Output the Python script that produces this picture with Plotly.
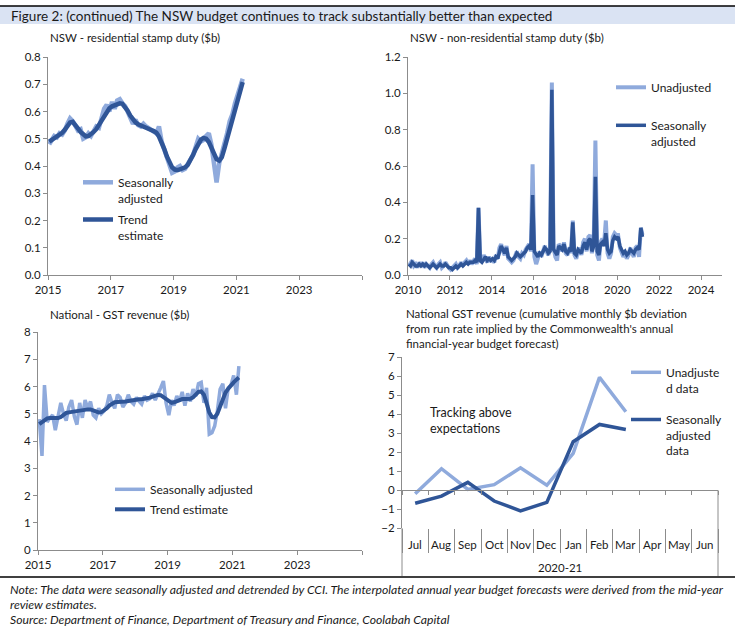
import pandas as pd
import plotly.graph_objects as go

W, H = 745, 639
LIGHT = "#8FAADC"
DARK = "#2F5597"
AXIS = "#8C8C8C"
TXT = "#1A1A1A"
FONT = "Lato"

# ---------------- data ----------------
# NSW residential stamp duty ($b), monthly Jan-2015 .. Mar-2021
res_start = "2015-01-01"
res_sa = [
    0.48, 0.50, 0.51, 0.505, 0.52, 0.515, 0.53, 0.555, 0.575, 0.565, 0.545, 0.53,
    0.535, 0.50, 0.505, 0.52, 0.51, 0.53, 0.545, 0.54, 0.575, 0.61, 0.625, 0.60,
    0.635, 0.61, 0.64, 0.645, 0.63, 0.62, 0.60, 0.575, 0.555, 0.57, 0.55, 0.545,
    0.555, 0.545, 0.54, 0.535, 0.53, 0.52, 0.545, 0.49, 0.46, 0.43, 0.40, 0.375,
    0.38, 0.395, 0.40, 0.385, 0.39, 0.41, 0.42, 0.44, 0.47, 0.50, 0.49, 0.495,
    0.51, 0.52, 0.48, 0.40, 0.34, 0.41, 0.445, 0.47, 0.52, 0.565, 0.59, 0.63,
    0.665, 0.70, 0.72,
]
res_trend = [
    0.489, 0.495, 0.502, 0.510, 0.515, 0.522, 0.533, 0.548, 0.560, 0.562, 0.552, 0.538,
    0.525, 0.514, 0.509, 0.510, 0.516, 0.525, 0.535, 0.550, 0.568, 0.585, 0.600, 0.612,
    0.619, 0.624, 0.628, 0.630, 0.628, 0.618, 0.603, 0.585, 0.569, 0.560, 0.553, 0.548,
    0.545, 0.541, 0.536, 0.532, 0.528, 0.522, 0.508, 0.488, 0.462, 0.435, 0.410, 0.395,
    0.387, 0.385, 0.388, 0.392, 0.395, 0.404, 0.420, 0.440, 0.462, 0.482, 0.497, 0.503,
    0.500, 0.488, 0.470, 0.445, 0.425, 0.420, 0.432, 0.465, 0.500, 0.545, 0.580, 0.615,
    0.650, 0.680, 0.708,
]

# NSW non-residential stamp duty ($b), monthly Jan-2010 .. Mar-2021
nonres_start = "2010-01-01"
nonres_unadj = [
    0.05, 0.07, 0.08, 0.05, 0.06, 0.04, 0.07, 0.05, 0.07, 0.04, 0.06, 0.05,
    0.04, 0.06, 0.07, 0.05, 0.04, 0.06, 0.07, 0.04, 0.05, 0.07, 0.05, 0.04,
    0.03, 0.04, 0.05, 0.06, 0.04, 0.05, 0.07, 0.05, 0.07, 0.08, 0.06, 0.08,
    0.06, 0.08, 0.09, 0.06, 0.37, 0.07, 0.08, 0.11, 0.09, 0.07, 0.10, 0.08,
    0.08, 0.07, 0.11, 0.09, 0.15, 0.17, 0.13, 0.11, 0.16, 0.09, 0.08, 0.07,
    0.08, 0.11, 0.13, 0.10, 0.09, 0.12, 0.11, 0.14, 0.16, 0.17, 0.13, 0.61,
    0.10, 0.06, 0.09, 0.13, 0.10, 0.14, 0.16, 0.13, 0.11, 0.14, 1.06, 0.15,
    0.10, 0.08, 0.17, 0.16, 0.13, 0.18, 0.12, 0.11, 0.15, 0.12, 0.30, 0.11,
    0.09, 0.13, 0.15, 0.11, 0.18, 0.20, 0.13, 0.21, 0.22, 0.12, 0.17, 0.74,
    0.11, 0.08, 0.18, 0.20, 0.17, 0.30, 0.12, 0.09, 0.12, 0.21, 0.23, 0.22,
    0.22, 0.15, 0.13, 0.10, 0.12, 0.09, 0.11, 0.15, 0.12, 0.10, 0.15, 0.16,
    0.10, 0.26, 0.22,
]
nonres_sa = [
    0.06, 0.05, 0.07, 0.06, 0.05, 0.05, 0.06, 0.05, 0.06, 0.05, 0.06, 0.05,
    0.04, 0.05, 0.06, 0.05, 0.04, 0.05, 0.06, 0.05, 0.05, 0.06, 0.05, 0.04,
    0.04, 0.03, 0.04, 0.05, 0.04, 0.05, 0.06, 0.05, 0.06, 0.07, 0.06, 0.07,
    0.07, 0.07, 0.08, 0.07, 0.37, 0.08, 0.07, 0.09, 0.10, 0.08, 0.09, 0.08,
    0.09, 0.08, 0.10, 0.09, 0.13, 0.16, 0.14, 0.12, 0.15, 0.10, 0.09, 0.08,
    0.09, 0.10, 0.12, 0.11, 0.10, 0.11, 0.12, 0.13, 0.15, 0.16, 0.14, 0.44,
    0.13, 0.11, 0.10, 0.12, 0.11, 0.13, 0.15, 0.14, 0.12, 0.13, 1.02, 0.14,
    0.12, 0.11, 0.16, 0.15, 0.14, 0.17, 0.13, 0.12, 0.14, 0.13, 0.29, 0.12,
    0.11, 0.14, 0.13, 0.12, 0.16, 0.18, 0.14, 0.19, 0.20, 0.13, 0.16, 0.54,
    0.13, 0.11, 0.17, 0.18, 0.16, 0.23, 0.14, 0.12, 0.13, 0.19, 0.21, 0.20,
    0.21, 0.16, 0.14, 0.12, 0.13, 0.11, 0.12, 0.14, 0.13, 0.12, 0.14, 0.15,
    0.14, 0.26, 0.21,
]

# National GST revenue ($b), monthly Jan-2015 .. Mar-2021
gst_start = "2015-01-01"
gst_sa = [
    4.80, 3.45, 6.05, 4.70, 4.85, 4.95, 4.40, 4.90, 5.40, 5.00, 4.75, 5.25,
    5.50, 4.90, 4.60, 5.40, 4.85, 5.50, 5.20, 5.45, 4.95, 4.85, 5.20, 5.00,
    5.10, 5.30, 5.70, 5.40, 5.20, 5.70, 5.60, 5.25, 5.40, 5.70, 5.45, 5.35,
    5.60, 5.45, 5.35, 5.65, 5.50, 5.55, 5.75, 5.50, 5.70, 5.95, 6.20, 5.40,
    4.95, 5.50, 5.30, 5.65, 5.45, 5.80, 5.30, 5.75, 5.45, 5.90, 5.65, 6.10,
    6.15, 5.40, 5.95, 4.25, 4.30, 4.55, 5.10, 5.90, 6.10, 5.20, 5.95, 6.05,
    6.40, 5.70, 6.75,
]
gst_trend = [
    4.62, 4.70, 4.78, 4.83, 4.84, 4.84, 4.83, 4.84, 4.88, 4.96, 5.03, 5.05,
    5.07, 5.09, 5.10, 5.11, 5.13, 5.15, 5.16, 5.16, 5.13, 5.08, 5.05, 5.06,
    5.12, 5.20, 5.30, 5.38, 5.42, 5.43, 5.43, 5.44, 5.45, 5.47, 5.49, 5.51,
    5.52, 5.53, 5.53, 5.54, 5.56, 5.59, 5.63, 5.67, 5.69, 5.68, 5.61, 5.52,
    5.44, 5.40, 5.42, 5.47, 5.52, 5.54, 5.54, 5.53, 5.55, 5.60, 5.70, 5.80,
    5.82, 5.70, 5.40, 5.05, 4.88, 4.87, 5.00, 5.25, 5.55, 5.78, 5.92, 6.05,
    6.15, 6.25, 6.33,
]

# Cumulative GST deviation 2020-21 ($b)
fy_months = ["Jul", "Aug", "Sep", "Oct", "Nov", "Dec", "Jan", "Feb", "Mar", "Apr", "May", "Jun"]
fy_unadj = [-0.2, 1.12, 0.03, 0.28, 1.17, 0.25, 1.93, 5.93, 4.12]
fy_sa = [-0.7, -0.32, 0.4, -0.58, -1.1, -0.65, 2.54, 3.45, 3.18]
fy_label = "2020-21"

res_years = [2015, 2017, 2019, 2021, 2023, 2025]
res_labels = ["2015", "2017", "2019", "2021", "2023", ""]
nonres_years = [2010, 2012, 2014, 2016, 2018, 2020, 2022, 2024]
nonres_labels = ["2010", "2012", "2014", "2016", "2018", "2020", "2022", "2024"]


def monthly(start, n):
    return pd.date_range(start, periods=n, freq="MS") + pd.Timedelta(days=14)


def px_x(p):
    return p / W


def px_y(p):
    return 1 - p / H


fig = go.Figure()

# Top-left
d = monthly(res_start, len(res_sa))
fig.add_trace(go.Scatter(x=d, y=res_sa, mode="lines", name="Seasonally<br>adjusted",
                         line=dict(color=LIGHT, width=4.5), xaxis="x", yaxis="y",
                         legend="legend", legendgroup="a1"))
fig.add_trace(go.Scatter(x=d, y=res_trend, mode="lines", name="Trend<br>estimate",
                         line=dict(color=DARK, width=4.5), xaxis="x", yaxis="y",
                         legend="legend", legendgroup="a2"))
# Top-right
d = monthly(nonres_start, len(nonres_sa))
fig.add_trace(go.Scatter(x=d, y=nonres_unadj, mode="lines", name="Unadjusted",
                         line=dict(color=LIGHT, width=4), xaxis="x2", yaxis="y2",
                         legend="legend2", legendgroup="b1"))
fig.add_trace(go.Scatter(x=d, y=nonres_sa, mode="lines", name="Seasonally<br>adjusted",
                         line=dict(color=DARK, width=3.5), xaxis="x2", yaxis="y2",
                         legend="legend2", legendgroup="b2"))
# Bottom-left
d = monthly(gst_start, len(gst_sa))
fig.add_trace(go.Scatter(x=d, y=gst_sa, mode="lines", name="Seasonally adjusted",
                         line=dict(color=LIGHT, width=3.5), xaxis="x3", yaxis="y3",
                         legend="legend3", legendgroup="c1"))
fig.add_trace(go.Scatter(x=d, y=gst_trend, mode="lines", name="Trend estimate",
                         line=dict(color=DARK, width=4), xaxis="x3", yaxis="y3",
                         legend="legend3", legendgroup="c2"))
# Bottom-right
fig.add_trace(go.Scatter(x=fy_months[:len(fy_unadj)], y=fy_unadj, mode="lines",
                         name="Unadjuste<br>d data", line=dict(color=LIGHT, width=3.5),
                         xaxis="x4", yaxis="y4", legend="legend4", legendgroup="d1"))
fig.add_trace(go.Scatter(x=fy_months[:len(fy_sa)], y=fy_sa, mode="lines",
                         name="Seasonally<br>adjusted<br>data", line=dict(color=DARK, width=3.5),
                         xaxis="x4", yaxis="y4", legend="legend4", legendgroup="d2"))
# helper trace for the zero-line category axis
fig.add_trace(go.Scatter(x=[None], y=[None], xaxis="x5", yaxis="y4", showlegend=False,
                         hoverinfo="skip"))

tickfont = dict(family=FONT, size=11.5, color=TXT)
base_axis = dict(showline=True, linecolor=AXIS, linewidth=1, ticks="outside", ticklen=4,
                 tickcolor=AXIS, tickwidth=1, showgrid=False, zeroline=False,
                 tickfont=tickfont, fixedrange=True, automargin=False)


def date_axis(domain, anchor, years, labels):
    vals = [f"{y}-01-01" for y in years]
    return dict(base_axis, domain=domain, anchor=anchor, type="date",
                tickmode="array", tickvals=vals, ticktext=labels)


y_top = [px_y(275), px_y(57)]
y4dom = [px_y(528), px_y(357)]
y4range = [-2, 7]
zero_pos = y4dom[0] + (0 - y4range[0]) / (y4range[1] - y4range[0]) * (y4dom[1] - y4dom[0])

xa1 = date_axis([px_x(48), px_x(362)], "y", res_years, res_labels)
xa1["range"] = ["2015-01-01", "2025-01-01"]
xa2 = date_axis([px_x(408), px_x(722)], "y2", nonres_years, nonres_labels)
xa2["range"] = ["2010-01-01", "2025-01-01"]
xa3 = date_axis([px_x(38), px_x(362)], "y3", res_years, res_labels)
xa3["range"] = ["2015-01-01", "2025-01-01"]

fig.update_layout(
    width=W, height=H, margin=dict(l=0, r=0, t=0, b=0, pad=0), autosize=False,
    paper_bgcolor="white", plot_bgcolor="rgba(0,0,0,0)",
    font=dict(family=FONT, size=12, color=TXT),
    hovermode=False,
    xaxis=xa1,
    yaxis=dict(base_axis, domain=y_top, anchor="x", range=[0, 0.8], dtick=0.1, tickformat=".1f"),
    xaxis2=xa2,
    yaxis2=dict(base_axis, domain=y_top, anchor="x2", range=[0, 1.2], dtick=0.2, tickformat=".1f"),
    xaxis3=xa3,
    yaxis3=dict(base_axis, domain=[px_y(550), px_y(332)], anchor="x3", range=[0, 8], dtick=1),
    xaxis4=dict(base_axis, domain=[px_x(402), px_x(718)], anchor="y4", type="category",
                categoryorder="array", categoryarray=fy_months, range=[-0.5, len(fy_months) - 0.5],
                showline=False, tickson="boundaries", ticklen=24, showticklabels=False),
    yaxis4=dict(base_axis, domain=y4dom, anchor="x4", range=y4range, dtick=1),
    xaxis5=dict(base_axis, overlaying="x4", anchor="free", position=zero_pos, type="linear",
                range=[-0.5, len(fy_months) - 0.5], tickmode="array",
                tickvals=[i - 0.5 for i in range(len(fy_months) + 1)], showticklabels=False),
)

legfont = dict(family=FONT, size=12, color=TXT)
leg = dict(bgcolor="rgba(0,0,0,0)", borderwidth=0, font=legfont, valign="top",
           xanchor="left", yanchor="top", itemclick=False, itemdoubleclick=False)
fig.update_layout(
    legend=dict(leg, x=px_x(78), y=px_y(168), tracegroupgap=3),
    legend2=dict(leg, x=px_x(611), y=px_y(73), tracegroupgap=19),
    legend3=dict(leg, x=px_x(110), y=px_y(475), tracegroupgap=1),
    legend4=dict(leg, x=px_x(626), y=px_y(358), tracegroupgap=13),
)

shapes = [
    dict(type="rect", xref="paper", yref="paper", x0=0, x1=px_x(735), y0=px_y(24), y1=px_y(6),
         fillcolor="#DAE3F3", line=dict(width=0), layer="below"),
    dict(type="line", xref="paper", yref="paper", x0=0, x1=px_x(735), y0=px_y(6), y1=px_y(6),
         line=dict(color="black", width=1.5)),
    dict(type="line", xref="paper", yref="paper", x0=0, x1=px_x(735), y0=px_y(577), y1=px_y(577),
         line=dict(color="black", width=1.5)),
    dict(type="line", xref="x4 domain", yref="paper", x0=0, x1=0, y0=y4dom[0], y1=px_y(576),
         line=dict(color=AXIS, width=1)),
    dict(type="line", xref="x4 domain", yref="paper", x0=1, x1=1, y0=zero_pos, y1=px_y(576),
         line=dict(color=AXIS, width=1)),
]

ann = []


def text(x, y, s, size=12, italic=False, xref="paper", xanchor="left"):
    ann.append(dict(x=x, y=y, xref=xref, yref="paper", text=s, showarrow=False,
                    xanchor=xanchor, yanchor="middle", align="left",
                    font=dict(family=FONT, size=size, color=TXT,
                              style="italic" if italic else "normal")))


text(px_x(9), px_y(16), "Figure 2: (continued) The NSW budget continues to track substantially better than expected", size=13.5)
text(px_x(48), px_y(38), "NSW - residential stamp duty ($b)", size=11.5)
text(px_x(408), px_y(38), "NSW - non-residential stamp duty ($b)", size=11.5)
text(px_x(48), px_y(314), "National - GST revenue ($b)", size=11.5)
ann.append(dict(x=px_x(404), y=px_y(328), xref="paper", yref="paper", showarrow=False,
                xanchor="left", yanchor="middle", align="left",
                text="National GST revenue (cumulative monthly $b deviation<br>from run rate implied by the Commonwealth's annual<br>financial-year budget forecast)",
                font=dict(family=FONT, size=11.5, color=TXT)))
ann.append(dict(x=px_x(428), y=px_y(420), xref="paper", yref="paper", showarrow=False,
                xanchor="left", yanchor="middle", align="left",
                text="Tracking above<br>expectations", font=dict(family=FONT, size=12.5, color=TXT)))
for m in fy_months:
    ann.append(dict(x=m, y=px_y(544), xref="x4", yref="paper", text=m, showarrow=False,
                    xanchor="center", yanchor="middle", font=tickfont))
ann.append(dict(x=0.5, y=px_y(567), xref="x4 domain", yref="paper", text=fy_label,
                showarrow=False, xanchor="center", yanchor="middle", font=tickfont))
text(px_x(8), px_y(589), "Note: The data were seasonally adjusted and detrended by CCI. The interpolated annual year budget forecasts were derived from the mid-year", size=12.2, italic=True)
text(px_x(8), px_y(604), "review estimates.", size=12.2, italic=True)
text(px_x(8), px_y(619), "Source: Department of Finance, Department of Treasury and Finance, Coolabah Capital", size=12.2, italic=True)

fig.update_layout(shapes=shapes, annotations=ann)
fig.write_html("out.html", config={"displayModeBar": False},
               post_script="document.body.style.margin='0';document.body.style.overflow='hidden';")
